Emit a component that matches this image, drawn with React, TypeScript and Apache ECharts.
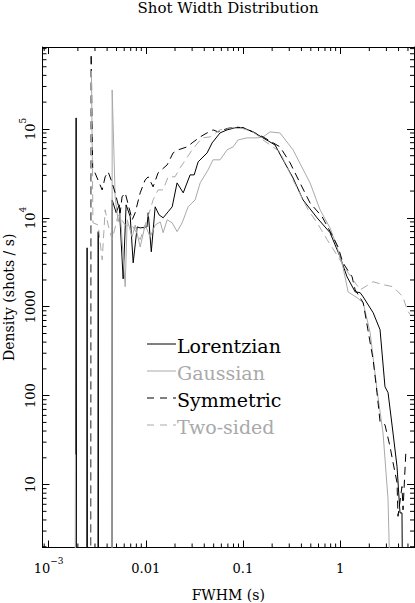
import React, { useEffect, useRef } from 'react';
import * as echarts from 'echarts';

const FONT = '"DejaVu Serif", serif';
const GRAY = '#a9a9a9';
const Z = 0.1; // empty bin, lies below the axis floor

const X_MIN = 8.65e-4;
const X_MAX = 5.77;
const Y_MIN = 1.96;
const Y_MAX = 8.34e5;

const xTickExps = [-3, -2, -1, 0];
const xTickLabels = ['{b|10}{s|\u22123}', '{b|0.01}', '{b|0.1}', '{b|1}'];
const yTickExps = [1, 2, 3, 4, 5];
const yTickLabels = ['{b|10}', '{b|100}', '{b|1000}', '{b|10}{s|4}', '{b|10}{s|5}'];

const lorX = [0.0019, 0.00192, 0.00194, 0.00247, 0.00249, 0.00251, 0.00322, 0.00324, 0.00326, 0.00449, 0.00451, 0.00496, 0.00533, 0.00585, 0.00628, 0.00692, 0.00742, 0.00816, 0.00876, 0.0103, 0.0106, 0.0114, 0.0125, 0.0137, 0.0151, 0.017, 0.0187, 0.021, 0.0243, 0.0286, 0.0315, 0.0346, 0.0428, 0.0482, 0.0582, 0.0687, 0.0832, 0.1005, 0.127, 0.161, 0.214, 0.259, 0.328, 0.416, 0.58, 0.789, 1.0, 1.18, 1.43, 1.61, 1.73, 2.19, 2.58, 2.9, 3.12, 3.51, 3.86, 4.14, 4.34, 4.45];
const lorY = [Z, 1.33e5, Z, Z, 4.6e3, Z, Z, 7.0e3, Z, Z, 1.59e4, 1.14e4, 1.4e4, 2.06e3, 1.4e4, 1.03e4, 3.12e3, 7.9e3, 7.7e3, 7.9e3, 1.14e4, 4.15e3, 1.33e4, 1.08e4, 1.0e4, 1.17e4, 1.33e4, 2.47e4, 1.91e4, 3.04e4, 3.04e4, 4.26e4, 5.37e4, 6.96e4, 9.02e4, 9.75e4, 1.03e5, 1.03e5, 9.25e4, 7.93e4, 6.6e4, 4.49e4, 2.81e4, 1.59e4, 1.0e4, 6.8e3, 3.65e3, 2.17e3, 1.47e3, 1.44e3, 1.29e3, 857, 552, 126, 108, 38, 15.9, 4.8, 4.8, Z];

const gauX = [0.00187, 0.00189, 0.00191, 0.00449, 0.00451, 0.00484, 0.0052, 0.00546, 0.00614, 0.00644, 0.00725, 0.00778, 0.00876, 0.00986, 0.0111, 0.0125, 0.0141, 0.0151, 0.0166, 0.0187, 0.021, 0.0237, 0.0273, 0.0322, 0.0363, 0.0438, 0.0493, 0.0582, 0.0687, 0.0793, 0.0893, 0.11, 0.14, 0.161, 0.19, 0.241, 0.328, 0.491, 0.623, 0.789, 0.931, 1.07, 1.21, 1.5, 1.73, 2.04, 2.4, 2.77, 3.12, 3.43];
const gauY = [Z, 21.7, Z, Z, 2.74e5, 1.72e4, 9.0e3, 1.14e4, 1.68e3, 9.5e3, 6.1e3, 8.3e3, 4.7e3, 8.3e3, 6.1e3, 8.3e3, 9.0e3, 6.8e3, 9.5e3, 8.8e3, 7.0e3, 8.8e3, 1.33e4, 1.59e4, 2.47e4, 3.46e4, 4.49e4, 4.49e4, 5.81e4, 6.28e4, 7.52e4, 7.93e4, 7.93e4, 8.1e4, 9.25e4, 9.0e4, 5.81e4, 2.47e4, 1.23e4, 7.7e3, 4.7e3, 2.81e3, 1.47e3, 1.26e3, 1.11e3, 511, 117, 38, 6.8, Z];

const symX = [0.0027, 0.00274, 0.00284, 0.00356, 0.00382, 0.0041, 0.00451, 0.00484, 0.00546, 0.0057, 0.00614, 0.00725, 0.00778, 0.00876, 0.00986, 0.0106, 0.0119, 0.0134, 0.0166, 0.0191, 0.0215, 0.0267, 0.03, 0.0363, 0.0428, 0.0493, 0.0556, 0.0625, 0.0738, 0.0832, 0.1005, 0.127, 0.161, 0.241, 0.306, 0.387, 0.491, 0.653, 0.847, 0.954, 1.07, 1.33, 1.43, 1.73, 2.19, 2.4, 2.58, 2.9, 3.27, 3.51, 3.86, 3.95, 4.34, 4.45, 4.77];
const symY = [Z, 7e5, 3.7e4, 2.06e4, 2.89e4, 3.29e4, 2.47e4, 1.91e4, 1.14e4, 1.72e4, 1.91e4, 9.5e3, 1.14e4, 1.91e4, 2.67e4, 2.89e4, 2.23e4, 3.21e4, 3.94e4, 5.37e4, 5.81e4, 6.28e4, 6.96e4, 8.13e4, 9.02e4, 9.75e4, 9.25e4, 9.75e4, 1.03e5, 1.05e5, 1.03e5, 9.25e4, 8.13e4, 6.28e4, 4.15e4, 2.47e4, 1.47e4, 1.03e4, 6.1e3, 4.7e3, 3.12e3, 2.17e3, 1.55e3, 1.11e3, 254, 108, 51, 47, 26.7, 17.7, 10.5, 4.4, 9.5, 5.2, 24.7];

const twoX = [0.00272, 0.00276, 0.00286, 0.00324, 0.00356, 0.00382, 0.0041, 0.00451, 0.0052, 0.00614, 0.00742, 0.00876, 0.00986, 0.0111, 0.0119, 0.0134, 0.0151, 0.017, 0.02, 0.0226, 0.03, 0.038, 0.046, 0.0582, 0.0738, 0.0936, 0.127, 0.161, 0.241, 0.328, 0.416, 0.469, 0.58, 0.735, 0.954, 1.21, 1.61, 2.19, 2.77, 3.51, 4.45, 4.89, 5.25];
const twoY = [Z, 4.5e5, 8.8e3, 8.3e3, 3.37e3, 1.23e4, 8.3e3, 5.7e3, 1.08e4, 8.3e3, 7.9e3, 5.7e3, 8.3e3, 1.23e4, 1.59e4, 2.06e4, 2.06e4, 2.89e4, 2.89e4, 3.65e4, 5.81e4, 7.93e4, 8.13e4, 9.75e4, 1.03e5, 1.03e5, 9.25e4, 7.52e4, 5.5e4, 2.67e4, 1.59e4, 1.23e4, 8.8e3, 5.7e3, 3.65e3, 2.41e3, 1.55e3, 1.91e3, 1.77e3, 1.68e3, 1.29e3, 925, 820];

const seriesNames = ['Lorentzian', 'Gaussian', 'Symmetric', 'Two-sided'];
const seriesColors = ['#000000', GRAY, '#000000', GRAY];
const seriesDashed = [false, false, true, true];

// minor tick positions (2..9 per decade) inside the axis ranges
const minorTicks = (lo: number, hi: number) => {
  const out: number[] = [];
  for (let e = -5; e <= 7; e++) {
    for (let m = 2; m <= 9; m++) {
      const v = m * Math.pow(10, e);
      if (v > lo && v < hi) out.push(v);
    }
  }
  return out;
};
const xMinor = minorTicks(X_MIN, X_MAX);
const yMinor = minorTicks(Y_MIN, Y_MAX);

const labelFor = (exps: number[], labels: string[]) => (v: number) => {
  const l = Math.log10(v);
  const r = Math.round(l);
  if (Math.abs(l - r) > 1e-6) return '';
  const i = exps.indexOf(r);
  return i >= 0 ? labels[i] : '';
};

const rich = {
  b: { fontSize: 13, lineHeight: 18, verticalAlign: 'bottom', fontFamily: FONT, color: '#000' },
  s: { fontSize: 9, lineHeight: 10, verticalAlign: 'top', fontFamily: FONT, color: '#000' },
};

const MAJOR = 7;
const MINOR = 4;

export default function App() {
  const ref = useRef<HTMLDivElement>(null);
  useEffect(() => {
    const chart = echarts.init(ref.current!, null, { renderer: 'svg' });
    const lineSeries = [
      [lorX, lorY],
      [gauX, gauY],
      [symX, symY],
      [twoX, twoY],
    ].map(([xs, ys], k) => ({
      type: 'line',
      name: seriesNames[k],
      data: xs.map((x, i) => [x, ys[i]]),
      showSymbol: false,
      symbol: 'none',
      silent: true,
      clip: true,
      z: 3,
      lineStyle: {
        color: seriesColors[k],
        width: 1,
        type: seriesDashed[k] ? [8, 5] : 'solid',
      },
    }));

    const legendRowsY = [344, 371, 398, 425];
    const legendGraphics: any[] = [];
    seriesNames.forEach((n, k) => {
      legendGraphics.push({
        type: 'line',
        shape: { x1: 147, y1: legendRowsY[k], x2: 176, y2: legendRowsY[k] },
        style: { stroke: seriesColors[k], lineWidth: 1, lineDash: seriesDashed[k] ? [7, 6] : null },
        silent: true,
      });
      legendGraphics.push({
        type: 'text',
        x: 177,
        y: legendRowsY[k] + 1.5,
        style: {
          text: n,
          fill: seriesColors[k],
          font: `19px ${FONT}`,
          textAlign: 'left',
          textVerticalAlign: 'middle',
          verticalAlign: 'middle',
        },
        silent: true,
      });
    });

    const axisCommon = {
      type: 'log',
      logBase: 10,
      axisLine: { show: true, lineStyle: { color: '#000', width: 1 } },
      axisTick: { show: true, inside: true, length: MAJOR, lineStyle: { color: '#000', width: 1 } },
      splitLine: { show: false },
      minorTick: { show: false },
    };

    chart.setOption({
      animation: false,
      backgroundColor: '#ffffff',
      grid: {
        left: 42.5,
        right: 1,
        top: 47,
        bottom: 55.5,
        containLabel: false,
        outerBoundsMode: 'none',
      },
      graphic: [
        {
          type: 'text',
          x: 228,
          y: 0,
          style: {
            text: 'Shot Width Distribution',
            fill: '#000',
            font: `15px ${FONT}`,
            textAlign: 'center',
            textVerticalAlign: 'top',
            verticalAlign: 'top',
          },
          silent: true,
        },
        ...legendGraphics,
      ],
      xAxis: [
        {
          ...axisCommon,
          position: 'bottom',
          min: X_MIN,
          max: X_MAX,
          name: 'FWHM (s)',
          nameLocation: 'middle',
          nameGap: 40,
          nameMoveOverlap: false,
          nameTextStyle: { fontFamily: FONT, fontSize: 14, color: '#000', verticalAlign: 'top' },
          axisLabel: {
            show: true,
            margin: 9,
            formatter: labelFor(xTickExps, xTickLabels),
            rich,
            fontFamily: FONT,
            fontSize: 13,
            color: '#000',
          },
        },
        {
          ...axisCommon,
          position: 'top',
          min: X_MIN,
          max: X_MAX,
          axisLabel: { show: false },
        },
      ],
      yAxis: [
        {
          ...axisCommon,
          position: 'left',
          min: Y_MIN,
          max: Y_MAX,
          name: 'Density (shots / s)',
          nameLocation: 'middle',
          nameGap: 27,
          nameMoveOverlap: false,
          nameTextStyle: { fontFamily: FONT, fontSize: 14, color: '#000' },
          axisLabel: {
            show: true,
            rotate: 90,
            margin: 6,
            formatter: labelFor(yTickExps, yTickLabels),
            rich,
            fontFamily: FONT,
            fontSize: 13,
            color: '#000',
          },
        },
        {
          ...axisCommon,
          position: 'right',
          min: Y_MIN,
          max: Y_MAX,
          axisLabel: { show: false },
        },
      ],
      series: [
        {
          type: 'custom',
          silent: true,
          xAxisIndex: 0,
          yAxisIndex: 0,
          z: 2,
          data: xMinor.map((v) => [v, 10]),
          renderItem: (params: any, api: any) => {
            const cs = params.coordSys;
            const x = api.coord([api.value(0), 10])[0];
            const yb = cs.y + cs.height;
            const yt = cs.y;
            return {
              type: 'group',
              children: [
                { type: 'line', shape: { x1: x, y1: yb, x2: x, y2: yb - MINOR }, style: { stroke: '#000', lineWidth: 1 } },
                { type: 'line', shape: { x1: x, y1: yt, x2: x, y2: yt + MINOR }, style: { stroke: '#000', lineWidth: 1 } },
              ],
            };
          },
        },
        {
          type: 'custom',
          silent: true,
          xAxisIndex: 0,
          yAxisIndex: 0,
          z: 2,
          data: yMinor.map((v) => [0.01, v]),
          renderItem: (params: any, api: any) => {
            const cs = params.coordSys;
            const y = api.coord([0.01, api.value(1)])[1];
            const xl = cs.x;
            const xr = cs.x + cs.width;
            return {
              type: 'group',
              children: [
                { type: 'line', shape: { x1: xl, y1: y, x2: xl + MINOR, y2: y }, style: { stroke: '#000', lineWidth: 1 } },
                { type: 'line', shape: { x1: xr, y1: y, x2: xr - MINOR, y2: y }, style: { stroke: '#000', lineWidth: 1 } },
              ],
            };
          },
        },
        ...lineSeries,
      ],
    });
    return () => chart.dispose();
  }, []);
  return (
    <div
      ref={ref}
      style={{ position: 'absolute', left: 0, top: 0, width: 415, height: 603, background: '#fff' }}
    />
  );
}
